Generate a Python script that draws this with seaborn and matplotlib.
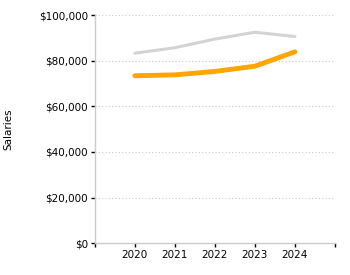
import numpy as np
import pandas as pd
import seaborn as sns
import matplotlib.pyplot as plt
from matplotlib.ticker import FuncFormatter, MultipleLocator

sns.set_style("white")
plt.rcParams['font.family'] = ['DejaVu Sans']

years = [2020, 2021, 2022, 2023, 2024]
series_a = [83300, 85700, 89500, 92500, 90600]   # grey line
series_b = [73400, 73800, 75300, 77600, 83900]   # orange line

df = pd.DataFrame({
    "Year": years * 2,
    "Salaries": series_a + series_b,
    "Series": ["A"] * len(years) + ["B"] * len(years),
})

fig = plt.figure(figsize=(3.5, 2.75), dpi=100)
ax = fig.add_axes([0.271, 0.116, 0.686, 0.829])

sns.lineplot(data=df[df["Series"] == "A"], x="Year", y="Salaries",
             color="#d3d3d3", linewidth=2.2, ax=ax, legend=False)
sns.lineplot(data=df[df["Series"] == "B"], x="Year", y="Salaries",
             color="#ffa500", linewidth=3.5, ax=ax, legend=False,
             solid_capstyle="round")

ax.set_xlim(2019, 2025)
ax.set_ylim(0, 100000)
ax.yaxis.set_major_locator(MultipleLocator(20000))
ax.xaxis.set_major_locator(MultipleLocator(1))
ax.yaxis.set_major_formatter(FuncFormatter(lambda v, p: f"${v:,.0f}"))
ax.xaxis.set_major_formatter(FuncFormatter(
    lambda v, p: f"{int(v)}" if 2020 <= v <= 2024 else ""))

ax.grid(axis="y", color="#c8c8c8", linestyle=(0, (1, 2)), linewidth=0.8)
ax.set_axisbelow(True)
for side in ["top", "right"]:
    ax.spines[side].set_visible(False)
for side in ["left", "bottom"]:
    ax.spines[side].set_color("#cccccc")
    ax.spines[side].set_linewidth(1)

ax.tick_params(axis="both", length=3, width=1, color="black",
               labelsize=7.5, labelcolor="black", pad=2,
               direction="out", bottom=True, left=True)
ax.set_xlabel("")
ax.set_ylabel("Salaries", fontsize=7.5, color="black")
ax.yaxis.set_label_coords(-0.34, 0.5)

fig.savefig("out.png", dpi=100)
